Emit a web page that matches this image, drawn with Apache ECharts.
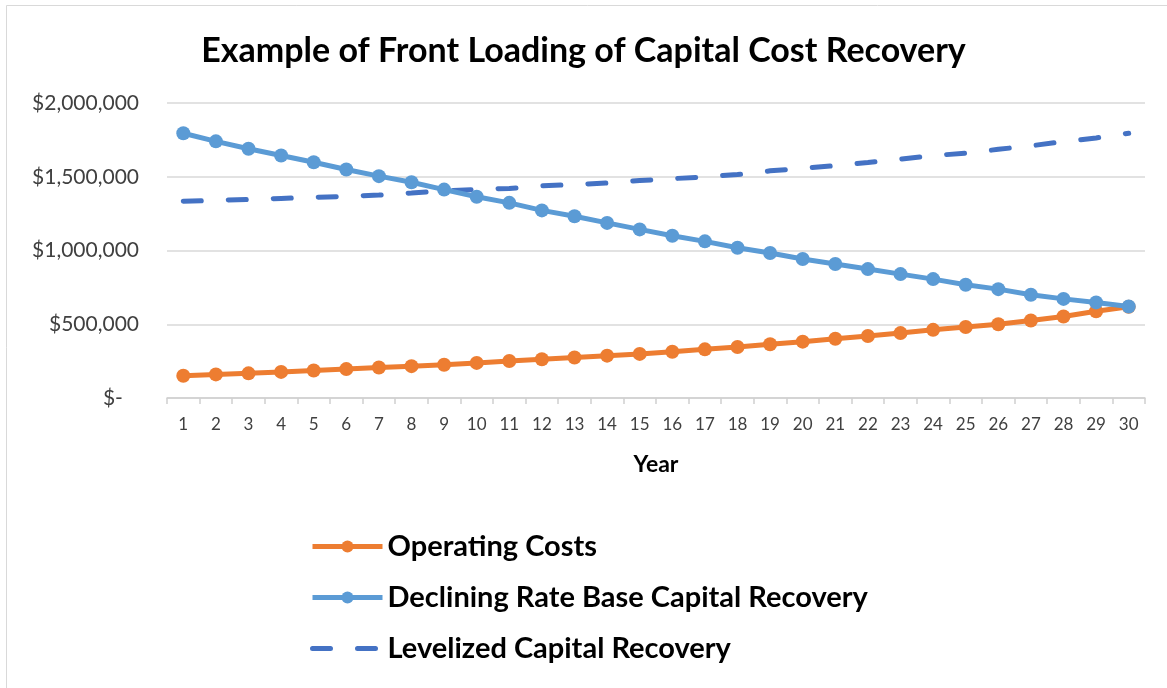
<!DOCTYPE html>
<html>
<head>
<meta charset="utf-8">
<script src="https://cdn.jsdelivr.net/npm/echarts@6/dist/echarts.min.js"></script>
<style>
  html, body { margin: 0; padding: 0; background: #fff; }
  #chart { width: 1167px; height: 688px; }
</style>
</head>
<body>
<div id="chart"></div>
<script>
// years on the x axis
const years = ['1','2','3','4','5','6','7','8','9','10','11','12','13','14','15',
               '16','17','18','19','20','21','22','23','24','25','26','27','28','29','30'];

// values, in dollars
const operatingCosts = [151000, 160000, 167000, 177000, 186000, 196000, 207000, 216000, 225000, 238000,
                        251000, 263000, 275000, 287000, 299000, 314000, 330000, 346000, 364000, 382000,
                        402000, 420000, 440000, 462000, 481000, 500000, 525000, 553000, 588000, 618000];

const decliningRecovery = [1795000, 1740000, 1690000, 1644000, 1598000, 1549000, 1504000, 1463000, 1413000, 1364000,
                           1323000, 1272000, 1232000, 1187000, 1143000, 1100000, 1062000, 1019000, 983000, 942000,
                           908000, 874000, 840000, 806000, 768000, 738000, 700000, 672000, 648000, 620000];

const levelizedRecovery = [1334000, 1340000, 1346000, 1353000, 1360000, 1367000, 1376000, 1390000, 1405000, 1414000,
                           1421000, 1438000, 1447000, 1458000, 1474000, 1487000, 1499000, 1515000, 1540000, 1557000,
                           1575000, 1597000, 1620000, 1643000, 1660000, 1686000, 1710000, 1738000, 1763000, 1795000];

const yTicks = { min: 0, max: 2000000, interval: 500000 };

const chart = echarts.init(document.getElementById('chart'), null, { renderer: 'canvas' });

const fmtMoney = v => v === 0 ? '$-   ' : '$' + v.toLocaleString('en-US');

chart.setOption({
  backgroundColor: '#fff',
  animation: false,
  textStyle: { fontFamily: 'Lato, sans-serif' },
  title: {
    text: 'Example of Front Loading of Capital Cost Recovery',
    left: 'center',
    top: 29,
    textStyle: { fontSize: 34, fontWeight: 'bold', color: '#000', fontFamily: 'Lato, sans-serif' }
  },
  graphic: [{
    type: 'rect',
    shape: { x: 6.5, y: 5.5, width: 1200, height: 720 },
    style: { fill: 'none', stroke: '#d9d9d9', lineWidth: 1 },
    silent: true
  }],
  legend: {
    orient: 'vertical',
    left: 305,
    top: 527,
    itemWidth: 70,
    itemHeight: 15,
    itemGap: 22,
    lineStyle: { width: 5 },
    textStyle: { fontSize: 29, fontWeight: 'bold', color: '#000' },
    data: [
      'Operating Costs',
      'Declining Rate Base Capital Recovery',
      { name: 'Levelized Capital Recovery', itemStyle: { opacity: 0 } }
    ]
  },
  grid: { left: 167, right: 22, top: 103, bottom: 290 },
  xAxis: {
    type: 'category',
    data: years,
    boundaryGap: true,
    name: 'Year',
    nameLocation: 'middle',
    nameGap: 55,
    nameTextStyle: { fontSize: 23, fontWeight: 'bold', color: '#000' },
    axisLine: { lineStyle: { color: '#d0d0d0', width: 1.5 } },
    axisTick: { show: true, length: 6, lineStyle: { color: '#d0d0d0', width: 1.5 } },
    axisLabel: { fontSize: 17, color: '#404040', margin: 18, interval: 0 }
  },
  yAxis: {
    type: 'value',
    min: yTicks.min,
    max: yTicks.max,
    interval: yTicks.interval,
    axisLine: { show: false },
    axisTick: { show: false },
    splitLine: { lineStyle: { color: '#d9d9d9', width: 1.5 } },
    axisLabel: { fontSize: 21, color: '#404040', margin: 28, formatter: fmtMoney }
  },
  series: [
    {
      name: 'Operating Costs',
      type: 'line',
      data: operatingCosts,
      color: '#ED7D31',
      symbol: 'circle',
      symbolSize: 14,
      lineStyle: { width: 5, color: '#ED7D31' },
      itemStyle: { color: '#ED7D31' },
      z: 3
    },
    {
      name: 'Declining Rate Base Capital Recovery',
      type: 'line',
      data: decliningRecovery,
      color: '#5B9BD5',
      symbol: 'circle',
      symbolSize: 14,
      lineStyle: { width: 5, color: '#5B9BD5' },
      itemStyle: { color: '#5B9BD5' },
      z: 4
    },
    {
      name: 'Levelized Capital Recovery',
      type: 'line',
      data: levelizedRecovery,
      color: '#4472C4',
      showSymbol: false,
      symbol: 'none',
      lineStyle: { width: 5, color: '#4472C4', type: [18, 27], cap: 'round' },
      itemStyle: { color: '#4472C4' },
      z: 2
    }
  ]
});
</script>
</body>
</html>
